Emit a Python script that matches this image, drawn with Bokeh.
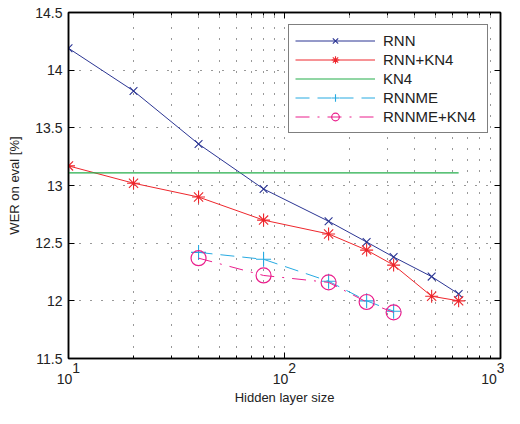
from bokeh.plotting import figure
from bokeh.models import (Range1d, LinearAxis, LogAxis, FixedTicker, Legend,
                          LegendItem)
from bokeh.embed import file_html
from bokeh.resources import INLINE

# ---------------- data ----------------
hidden_size = [10, 20, 40, 80, 160, 240, 320, 480, 640]
wer_rnn = [14.19, 13.82, 13.36, 12.97, 12.69, 12.51, 12.38, 12.21, 12.06]
wer_rnn_kn4 = [13.17, 13.02, 12.90, 12.70, 12.58, 12.44, 12.31, 12.04, 12.00]

kn4_size = [10, 640]
wer_kn4 = [13.11, 13.11]

rnnme_size = [40, 80, 160, 240, 320]
wer_rnnme = [12.42, 12.36, 12.17, 12.00, 11.91]
wer_rnnme_kn4 = [12.37, 12.22, 12.16, 11.99, 11.90]

y_ticks = [11.5, 12.0, 12.5, 13.0, 13.5, 14.0, 14.5]
y_tick_labels = ["11.5", "12", "12.5", "13", "13.5", "14", "14.5"]
x_major = [10, 100, 1000]
x_major_base = ["10", "10", "10"]
x_major_exp = ["1", "2", "3"]
x_minor = [m * b for b in (10, 100) for m in range(2, 10)]

series_names = ["RNN", "RNN+KN4", "KN4", "RNNME", "RNNME+KN4"]
# --------------------------------------

FONT = "Liberation Sans"
NB = "\u00a0"
C_RNN = "#2B3593"
C_RNNKN = "#EE262C"
C_KN = "#25AE4B"
C_ME = "#27AAE1"
C_MEKN = "#EA1E8C"
TXT = "#222222"

p = figure(width=504, height=408, x_axis_type="log",
           x_range=Range1d(10, 1000), y_range=Range1d(11.5, 14.5),
           output_backend="svg", toolbar_location=None,
           min_border_left=68, min_border_right=4, min_border_top=12,
           min_border_bottom=48)
p.background_fill_color = "white"
p.border_fill_color = "white"
p.outline_line_color = "black"
p.outline_line_width = 1.5

xt = FixedTicker(ticks=x_major, minor_ticks=x_minor)
yt = FixedTicker(ticks=y_ticks)

# bottom axis: "10" with raised exponent as a two-line label
xa = p.xaxis[0]
xa.ticker = xt
xa.major_label_overrides = {
    v: NB * 4 + e + "\n" + b + NB * 2
    for v, b, e in zip(x_major, x_major_base, x_major_exp)
}
xa.major_label_text_font = FONT
xa.major_label_text_font_size = "14px"
xa.major_label_text_color = TXT
xa.major_label_text_line_height = 0.72
xa.major_label_standoff = 1
xa.axis_label = "Hidden layer size"
xa.axis_label_text_font = FONT
xa.axis_label_text_font_size = "13px"
xa.axis_label_text_font_style = "normal"
xa.axis_label_text_color = TXT
xa.axis_label_standoff = 0

ya = p.yaxis[0]
ya.ticker = yt
ya.major_label_overrides = {t: s for t, s in zip(y_ticks, y_tick_labels)}
ya.major_label_text_font = FONT
ya.major_label_text_font_size = "14px"
ya.major_label_text_color = TXT
ya.major_label_standoff = 6
ya.axis_label = "WER on eval [%]"
ya.axis_label_text_font = FONT
ya.axis_label_text_font_size = "13px"
ya.axis_label_text_font_style = "normal"
ya.axis_label_text_color = TXT
ya.axis_label_standoff = 10
ya.minor_tick_line_color = None

top = LogAxis(ticker=xt, major_label_text_font_size="1px",
              major_label_text_color=None, major_label_standoff=0)
right = LinearAxis(ticker=yt, major_label_text_font_size="1px",
                   major_label_text_color=None, major_label_standoff=0)
p.add_layout(top, "above")
p.add_layout(right, "right")
right.minor_tick_line_color = None

for ax in (xa, ya, top, right):
    ax.axis_line_color = "black"
    ax.axis_line_width = 1.5
    ax.major_tick_in = 6
    ax.major_tick_out = 0
    ax.minor_tick_in = 3
    ax.minor_tick_out = 0
    ax.major_tick_line_color = "black"

p.xgrid.ticker = xt
p.ygrid.ticker = yt
for g in (p.xgrid[0], p.ygrid[0]):
    g.grid_line_color = "#333333"
    g.grid_line_dash = "1 10"
    g.grid_line_width = 1
p.xgrid.minor_grid_line_color = "#333333"
p.xgrid.minor_grid_line_dash = "1 10"
p.ygrid.minor_grid_line_color = None

# series
l1 = p.line(hidden_size, wer_rnn, line_color=C_RNN, line_width=1)
m1 = p.scatter(hidden_size, wer_rnn, marker="x", size=11, line_color=C_RNN,
               line_width=1.1)
l2 = p.line(hidden_size, wer_rnn_kn4, line_color=C_RNNKN, line_width=1)
m2 = p.scatter(hidden_size, wer_rnn_kn4, marker="asterisk", size=13,
               line_color=C_RNNKN, line_width=1.1)
l3 = p.line(kn4_size, wer_kn4, line_color=C_KN, line_width=1.2)
l4 = p.line(rnnme_size, wer_rnnme, line_color=C_ME, line_width=1,
            line_dash="14 8")
m4 = p.scatter(rnnme_size, wer_rnnme, marker="cross", size=15,
               line_color=C_ME, line_width=1.1)
l5 = p.line(rnnme_size, wer_rnnme_kn4, line_color=C_MEKN, line_width=1,
            line_dash="14 8 2 8")
m5 = p.scatter(rnnme_size, wer_rnnme_kn4, marker="circle", size=15,
               line_color=C_MEKN, fill_color=None, line_width=1.2)

items = [
    LegendItem(label=series_names[0], renderers=[l1, m1]),
    LegendItem(label=series_names[1], renderers=[l2, m2]),
    LegendItem(label=series_names[2], renderers=[l3]),
    LegendItem(label=series_names[3], renderers=[l4, m4]),
    LegendItem(label=series_names[4], renderers=[l5, m5]),
]
leg = Legend(items=items, location="top_right", margin=12, padding=6,
             spacing=0, glyph_width=80, glyph_height=19, label_height=19,
             label_width=98, label_standoff=8,
             label_text_font=FONT, label_text_font_size="15px",
             label_text_color=TXT,
             border_line_color="black", border_line_width=1.5,
             background_fill_color="white", background_fill_alpha=1)
p.add_layout(leg)

open("out.html", "w").write(file_html(p, INLINE))
